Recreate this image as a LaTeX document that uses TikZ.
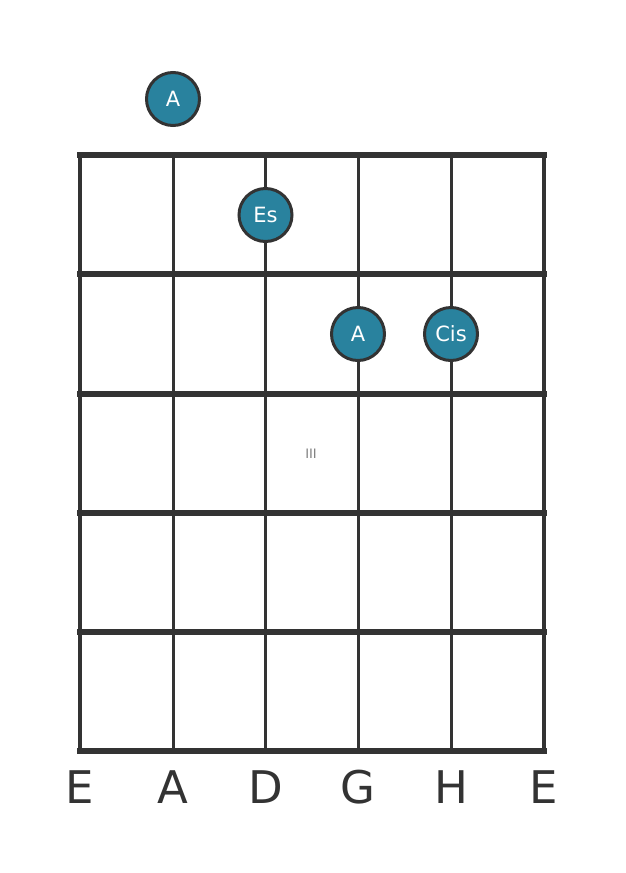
\documentclass[tikz,border=0pt]{standalone}
\usepackage{fontspec}
\setmainfont{DejaVu Sans}
\usetikzlibrary{calc}
\definecolor{griddark}{HTML}{333333}
\definecolor{noteteal}{HTML}{29829E}
\tikzset{
  note/.style={circle, draw=griddark, line width=3pt, fill=noteteal, text=white,
    minimum size=53pt, inner sep=0pt, font=\fontsize{21}{21}\selectfont},
  stringname/.style={text=griddark, font=\fontsize{45}{45}\selectfont, anchor=base}
}
\begin{document}
\begin{tikzpicture}[x=1pt,y=-1pt]
            \useasboundingbox (0,0) rectangle (626,873);
            \foreach \s in {173,265.5,358,451}
              \draw[griddark, line width=3pt] (\s,155) -- (\s,751);
            \draw[griddark, line width=4.5pt] (80,155) -- (80,751);
            \draw[griddark, line width=4.5pt] (544,155) -- (544,751);
            \foreach \f in {155,274,393.5,513,632,751}
              \draw[griddark, line width=6pt, line cap=rect] (80,\f) -- (544,\f);
            \node[text=gray, font=\fontsize{13}{13}\selectfont] (pos) at (311,454) {III};
            \node[note] (a0) at (173,99) {A};
            \node[note] (es) at (265.5,215) {Es};
            \node[note] (a1) at (358,334) {A};
            \node[note] (cis) at (451,334) {Cis};
            \node[stringname] (s1) at (80,803) {E};
            \node[stringname] (s2) at (173,803) {A};
            \node[stringname] (s3) at (265.5,803) {D};
            \node[stringname] (s4) at (358,803) {G};
            \node[stringname] (s5) at (451,803) {H};
            \node[stringname] (s6) at (544,803) {E};
        \end{tikzpicture}
\end{document}
